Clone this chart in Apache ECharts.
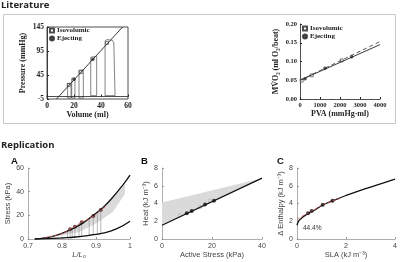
<!DOCTYPE html>
<html>
<head>
<meta charset="utf-8">
<script src="https://cdn.jsdelivr.net/npm/echarts@6/dist/echarts.min.js"></script>
<style>
  html, body { margin: 0; padding: 0; background: #fff; }
  #chart { width: 400px; height: 262px; }
</style>
</head>
<body>
<div id="chart"></div>
<script>
// ---- Literature, left: pressure / volume ----
const pvFit = [[7, -5], [56, 145]]
const pvLoops = [
  [[15.3, -3], [15.3, 27], [17.8, 28], [17.8, -3], [15.3, -3]],
  [[18.3, -3], [18.3, 38], [20.7, 39], [20.7, -3], [18.3, -3]],
  [[23.7, -3], [23.7, 55], [26.9, 56], [26.9, -3], [23.7, -3]],
  [[32.4, 2], [32.4, 82], [36.8, 84], [36.8, 2], [32.4, 2]],
  [[43, 2], [43, 116], [44.5, 119], [48.5, 117], [49.5, 112], [50.4, 2], [43, 2]]
]
const pvIso = [[16, 24], [25, 51], [44.5, 112]]
const pvEject = [[20, 36], [34, 78]]

// ---- Literature, right: MVO2 / PVA ----
const pvaSolid = [[0, 0.05], [4000, 0.145]]
const pvaDashed = [[0, 0.05], [4000, 0.153]]
const pvaIso = [[83, 0.049], [583, 0.063], [2083, 0.103]]
const pvaEject = [[250, 0.054], [1250, 0.082], [2583, 0.113]]

// ---- Replication A: stress / length ----
const aUpper = [[0.72, 0], [0.74, 0.5], [0.77, 2], [0.8, 4.8], [0.83, 8.5], [0.86, 13.2], [0.89, 19.5], [0.92, 26.5], [0.95, 35.5], [0.98, 46], [1, 54]]
const aLower = [[0.72, 0], [0.76, 0.3], [0.8, 0.9], [0.84, 1.7], [0.88, 3.1], [0.92, 5], [0.96, 8.5], [1, 15]]
const aBandTop = [[0.78, 3.2], [0.8, 4.5], [0.85, 11], [0.9, 21], [0.95, 34.5], [0.985, 46]]
const aBandBottom = [[0.78, 2.6], [0.8, 3], [0.85, 6], [0.9, 13], [0.95, 23], [0.985, 38]]
const aRed = [[0.75, 1.2], [0.8, 4.6], [0.824, 8.2], [0.838, 10.4], [0.858, 14.1], [0.892, 19.5], [0.914, 24.5], [0.93, 27.5]]
const aDots = [[0.824, 8.2], [0.838, 10.4], [0.858, 14.1], [0.892, 19.5], [0.914, 24.5]]
const aLoops = [
  [[0.816, 1.1], [0.816, 7.2], [0.824, 8.2], [0.824, 1.2], [0.816, 1.1]],
  [[0.830, 1.4], [0.830, 9.4], [0.838, 10.4], [0.838, 1.6], [0.830, 1.4]],
  [[0.850, 1.9], [0.850, 13.0], [0.858, 14.1], [0.858, 2.2], [0.850, 1.9]],
  [[0.880, 3.1], [0.880, 18.0], [0.892, 19.5], [0.892, 3.6], [0.880, 3.1]],
  [[0.904, 4.2], [0.904, 23.0], [0.914, 24.5], [0.914, 4.7], [0.904, 4.2]]
]

// ---- Replication B: heat / active stress ----
const bLine = [[0, 1.55], [40, 6.85]]
const bBand = [[0, 4.1], [40, 6.85], [0, 1.55]]
const bDots = [[9.9, 2.9], [11.9, 3.15], [17.2, 3.9], [20.8, 4.3]]
const bOpen = [[7.2, 2.7], [15.2, 3.6], [19.2, 4.3]]

// ---- Replication C: enthalpy / SLA ----
const cCurve = [[0, 1.55], [0.05, 1.95], [0.1, 2.15], [0.25, 2.5], [0.5, 2.95], [0.75, 3.3], [1, 3.75], [1.5, 4.35], [2, 4.9], [2.5, 5.4], [3, 5.85], [3.5, 6.3], [4, 6.75]]
const cRed = [[0, 2.25], [0.2, 2.55], [0.45, 2.9], [0.6, 3.15], [1.05, 3.85], [1.45, 4.3], [1.75, 4.55]]
const cDots = [[0.45, 2.9], [0.6, 3.15], [1.05, 3.85], [1.45, 4.3]]

const serif = 'Liberation Serif'
const sans = 'Liberation Sans'

function litAxis(extra) {
  return Object.assign({
    type: 'value',
    axisLine: { lineStyle: { color: '#222', width: 0.8 } },
    axisTick: { inside: true, length: 2, lineStyle: { color: '#222' } },
    axisLabel: { fontFamily: serif, fontWeight: 'bold', fontSize: 7.5, color: '#222', margin: 3 },
    splitLine: { show: false },
    nameLocation: 'middle',
    nameTextStyle: { fontFamily: serif, fontWeight: 'bold', fontSize: 8, color: '#222' }
  }, extra)
}

function repAxis(extra) {
  return Object.assign({
    type: 'value',
    axisLine: { lineStyle: { color: '#999', width: 0.8 } },
    axisTick: { inside: true, length: 2, lineStyle: { color: '#999' } },
    axisLabel: { fontFamily: sans, fontSize: 7, color: '#444', margin: 4 },
    splitLine: { show: false },
    nameLocation: 'middle',
    nameTextStyle: { fontFamily: sans, fontSize: 7.5, color: '#444' }
  }, extra)
}

function polygonSeries(pts, xi, color) {
  return {
    type: 'custom',
    xAxisIndex: xi, yAxisIndex: xi,
    silent: true,
    z: 1,
    data: [pts[0]],
    renderItem: function (params, api) {
      return {
        type: 'polygon',
        shape: { points: pts.map(p => api.coord(p)) },
        style: { fill: color, stroke: null }
      }
    }
  }
}

const series = []
// literature left
series.push({ type: 'line', xAxisIndex: 0, yAxisIndex: 0, data: pvFit, symbol: 'none', lineStyle: { color: '#222', width: 0.9 } })
pvLoops.forEach(l => series.push({ type: 'line', xAxisIndex: 0, yAxisIndex: 0, data: l, symbol: 'none', lineStyle: { color: '#333', width: 0.6 } }))
series.push({ name: 'Isovolumic', type: 'scatter', xAxisIndex: 0, yAxisIndex: 0, data: pvIso, symbol: 'rect', symbolSize: 3, itemStyle: { color: '#fff', borderColor: '#222', borderWidth: 0.7 } })
series.push({ name: 'Ejecting', type: 'scatter', xAxisIndex: 0, yAxisIndex: 0, data: pvEject, symbol: 'circle', symbolSize: 3, itemStyle: { color: '#333', borderColor: '#222', borderWidth: 0.5 } })
// literature right
series.push({ type: 'line', xAxisIndex: 1, yAxisIndex: 1, data: pvaSolid, symbol: 'none', lineStyle: { color: '#222', width: 0.9 } })
series.push({ type: 'line', xAxisIndex: 1, yAxisIndex: 1, data: pvaDashed, symbol: 'none', lineStyle: { color: '#444', width: 0.9, type: [4, 3] } })
series.push({ name: 'Isovolumic', type: 'scatter', xAxisIndex: 1, yAxisIndex: 1, data: pvaIso, symbol: 'rect', symbolSize: 3, itemStyle: { color: '#fff', borderColor: '#222', borderWidth: 0.7 } })
series.push({ name: 'Ejecting', type: 'scatter', xAxisIndex: 1, yAxisIndex: 1, data: pvaEject, symbol: 'circle', symbolSize: 3, itemStyle: { color: '#333', borderColor: '#222', borderWidth: 0.5 } })
// A
series.push(polygonSeries(aBandTop.concat(aBandBottom.slice().reverse()), 2, '#dadada'))
aLoops.forEach(l => series.push({ type: 'line', xAxisIndex: 2, yAxisIndex: 2, data: l, symbol: 'none', lineStyle: { color: '#8a8a8a', width: 0.6 } }))
series.push({ type: 'line', xAxisIndex: 2, yAxisIndex: 2, data: aUpper, smooth: true, symbol: 'none', lineStyle: { color: '#111', width: 1.3 } })
series.push({ type: 'line', xAxisIndex: 2, yAxisIndex: 2, data: aLower, smooth: true, symbol: 'none', lineStyle: { color: '#111', width: 1.3 } })
series.push({ type: 'line', xAxisIndex: 2, yAxisIndex: 2, data: aRed, smooth: true, symbol: 'none', lineStyle: { color: '#d9534f', width: 0.8, type: [3, 2] } })
series.push({ type: 'scatter', xAxisIndex: 2, yAxisIndex: 2, data: aDots, symbolSize: 4, itemStyle: { color: '#5a1818' } })
// B
series.push(polygonSeries(bBand, 3, '#dadada'))
series.push({ type: 'line', xAxisIndex: 3, yAxisIndex: 3, data: bLine, symbol: 'none', lineStyle: { color: '#111', width: 1.3 } })
series.push({ type: 'scatter', xAxisIndex: 3, yAxisIndex: 3, data: bOpen, symbolSize: 3.5, itemStyle: { color: 'rgba(255,255,255,0)', borderColor: '#aaa', borderWidth: 0.7 } })
series.push({ type: 'scatter', xAxisIndex: 3, yAxisIndex: 3, data: bDots, symbolSize: 4, itemStyle: { color: '#111' } })
// C
series.push({ type: 'line', xAxisIndex: 4, yAxisIndex: 4, data: cCurve, smooth: true, symbol: 'none', lineStyle: { color: '#111', width: 1.3 } })
series.push({ type: 'line', xAxisIndex: 4, yAxisIndex: 4, data: cRed, smooth: true, symbol: 'none', lineStyle: { color: '#d9534f', width: 0.8, type: [3, 2] } })
series.push({ type: 'scatter', xAxisIndex: 4, yAxisIndex: 4, data: cDots, symbolSize: 4, itemStyle: { color: '#111' } })

const option = {
  animation: false,
  backgroundColor: '#fff',
  title: [
    { text: 'Literature', left: -4, top: -5, textStyle: { fontFamily: 'Open Sans', fontWeight: 'bold', fontSize: 9.5, color: '#222' } },
    { text: 'Replication', left: -4, top: 135, textStyle: { fontFamily: 'Open Sans', fontWeight: 'bold', fontSize: 9.5, color: '#222' } },
    { text: 'A', left: 6, top: 151, textStyle: { fontFamily: sans, fontWeight: 'bold', fontSize: 9.5, color: '#111' } },
    { text: 'B', left: 136, top: 151, textStyle: { fontFamily: sans, fontWeight: 'bold', fontSize: 9.5, color: '#111' } },
    { text: 'C', left: 272, top: 151, textStyle: { fontFamily: sans, fontWeight: 'bold', fontSize: 9.5, color: '#111' } }
  ],
  graphic: [
    { type: 'rect', shape: { x: 3.5, y: 14.5, width: 392, height: 109 }, style: { fill: null, stroke: '#c8c8c8', lineWidth: 1 }, silent: true },
    { type: 'text', left: 303, top: 225, style: { text: '44.4%', fontFamily: sans, fontSize: 6.5, fill: '#333' }, silent: true }
  ],
  legend: [
    { left: 49, top: 27, orient: 'vertical', itemGap: 1, itemWidth: 4, itemHeight: 4, padding: 0, data: ['Isovolumic', 'Ejecting'], textStyle: { fontFamily: serif, fontWeight: 'bold', fontSize: 7, color: '#222', padding: [0, 0, 0, -2] } },
    { left: 302, top: 25, orient: 'vertical', itemGap: 1, itemWidth: 4, itemHeight: 4, padding: 0, data: ['Isovolumic', 'Ejecting'], textStyle: { fontFamily: serif, fontWeight: 'bold', fontSize: 7, color: '#222', padding: [0, 0, 0, -2] } }
  ],
  grid: [
    { left: 47, top: 27, width: 81, height: 72, show: true, borderColor: '#222', borderWidth: 0.8, backgroundColor: 'transparent' },
    { left: 300, top: 24, width: 80, height: 75 },
    { left: 28, top: 168, width: 102, height: 71 },
    { left: 162, top: 168, width: 100, height: 71 },
    { left: 297, top: 168, width: 100, height: 71 }
  ],
  xAxis: [
    litAxis({ gridIndex: 0, min: 0, max: 60, interval: 20, name: 'Volume (ml)', nameGap: 11 }),
    litAxis({ gridIndex: 1, min: 0, max: 4000, interval: 1000, name: 'PVA (mmHg·ml)', nameGap: 10, axisLabel: { fontFamily: serif, fontWeight: 'bold', fontSize: 6.5, color: '#222', margin: 3, formatter: v => String(v) } }),
    repAxis({ gridIndex: 2, min: 0.7, max: 1, interval: 0.1, name: 'L/L₀', nameGap: 12, nameTextStyle: { fontFamily: sans, fontSize: 7.5, fontStyle: 'italic', color: '#444' }, axisLabel: { fontFamily: sans, fontSize: 7, color: '#444', margin: 4, formatter: v => String(+v.toFixed(1)) } }),
    repAxis({ gridIndex: 3, min: 0, max: 40, interval: 20, name: 'Active Stress (kPa)', nameGap: 12 }),
    repAxis({ gridIndex: 4, min: 0, max: 4, interval: 2, name: 'SLA (kJ m⁻³)', nameGap: 12 })
  ],
  yAxis: [
    litAxis({ gridIndex: 0, min: -5, max: 145, interval: 50, name: 'Pressure (mmHg)', nameGap: 20 }),
    litAxis({ gridIndex: 1, min: 0, max: 0.2, interval: 0.05, name: 'MV̇O₂ (ml O₂/beat)', nameGap: 20, axisLabel: { fontFamily: serif, fontWeight: 'bold', fontSize: 6.5, color: '#222', margin: 3, formatter: v => v.toFixed(2) } }),
    repAxis({ gridIndex: 2, min: 0, max: 60, interval: 20, name: 'Stress (kPa)', nameGap: 12 }),
    repAxis({ gridIndex: 3, min: 0, max: 8, interval: 2, name: 'Heat (kJ m⁻³)', nameGap: 8 }),
    repAxis({ gridIndex: 4, min: 0, max: 8, interval: 2, name: 'Δ Enthalpy (kJ m⁻³)', nameGap: 8 })
  ],
  series: series
}

const myChart = echarts.init(document.getElementById('chart'))
myChart.setOption(option)
</script>
</body>
</html>
